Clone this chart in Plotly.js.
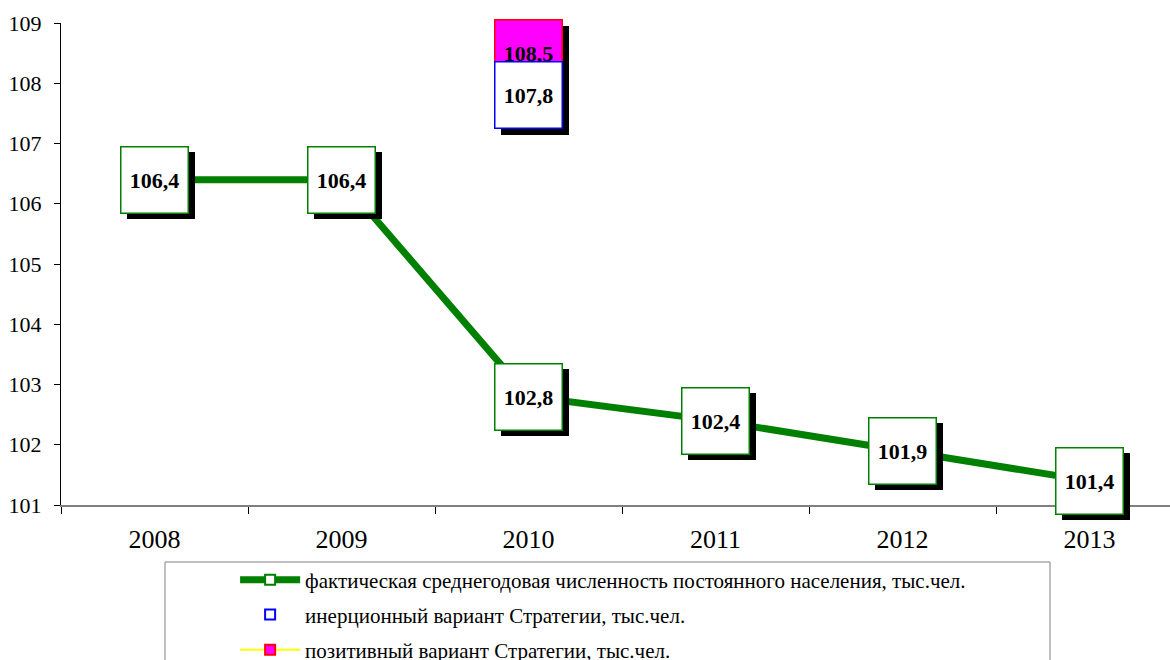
<!DOCTYPE html>
<html>
<head>
<meta charset="utf-8">
<script src="https://cdn.plot.ly/plotly-3.0.1.min.js"></script>
<style>html,body{margin:0;padding:0;background:#fff;}#chart{width:1170px;height:660px;}</style>
</head>
<body>
<div id="chart"></div>
<script>
var years = ['2008', '2009', '2010', '2011', '2012', '2013'];
var actualValues = [106.4, 106.4, 102.8, 102.4, 101.9, 101.4];
var inertialYears = ['2010'];
var inertialValues = [107.8];
var positiveYears = ['2010'];
var positiveValues = [108.5];
var seriesNames = [
  'фактическая среднегодовая численность постоянного населения, тыс.чел.',
  'инерционный вариант Стратегии, тыс.чел.',
  'позитивный вариант Стратегии, тыс.чел.'
];
var yTickValues = [101, 102, 103, 104, 105, 106, 107, 108, 109];

var FONT = 'Liberation Serif';
function fmt(v) { return v.toFixed(1).replace('.', ','); }

var traces = [
  {
    x: years, y: actualValues, type: 'scatter', mode: 'lines+markers',
    name: seriesNames[0], legend: 'legend',
    line: {color: '#008000', width: 7},
    marker: {symbol: 'square', size: 10, color: '#ffffff', line: {color: '#008000', width: 2}}
  },
  {
    x: inertialYears, y: inertialValues, type: 'scatter', mode: 'markers',
    name: seriesNames[1], legend: 'legend2',
    marker: {symbol: 'square', size: 10, color: '#ffffff', line: {color: '#0000ff', width: 2}}
  },
  {
    x: positiveYears, y: positiveValues, type: 'scatter', mode: 'lines+markers',
    name: seriesNames[2], legend: 'legend3',
    line: {color: '#ffff00', width: 2},
    marker: {symbol: 'square', size: 10, color: '#ff00ff', line: {color: '#ff0000', width: 2}}
  }
];

var annotations = [];
function addBox(yr, y, bg, border) {
  var xi = years.indexOf(yr);
  annotations.push({
    x: xi, y: y, xref: 'x', yref: 'y', showarrow: false, text: '&nbsp;',
    xshift: 6, yshift: -6, width: 66, height: 65, borderpad: 0, borderwidth: 1,
    bgcolor: '#000000', bordercolor: '#000000',
    font: {family: FONT, size: 22, color: '#000000'}
  });
  annotations.push({
    x: xi, y: y, xref: 'x', yref: 'y', showarrow: false, text: '<b>' + fmt(y) + '</b>',
    width: 66, height: 65, borderpad: 0, borderwidth: 1.5,
    bgcolor: bg, bordercolor: border,
    font: {family: FONT, size: 22, color: '#000000'}
  });
}
years.forEach(function (yr, i) { addBox(yr, actualValues[i], '#ffffff', '#008000'); });
positiveYears.forEach(function (yr, i) { addBox(yr, positiveValues[i], '#ff00ff', '#ff0000'); });
inertialYears.forEach(function (yr, i) { addBox(yr, inertialValues[i], '#ffffff', '#0000ff'); });

var legendFont = {family: FONT, size: 21, color: '#000000'};
var legendX = 0.157;
var layout = {
  width: 1170, height: 660,
  margin: {l: 61, r: 0, t: 23, b: 155, autoexpand: false},
  paper_bgcolor: '#ffffff', plot_bgcolor: '#ffffff',
  font: {family: FONT, color: '#000000'},
  xaxis: {
    type: 'category', range: [-0.5, 5.43], autorange: false,
    showline: true, linecolor: '#808080', linewidth: 1.5,
    ticks: 'outside', tickson: 'boundaries', ticklen: 7, tickcolor: '#000000',
    showgrid: false, zeroline: false, ticklabelstandoff: 10,
    tickfont: {family: FONT, size: 26, color: '#000000'}
  },
  yaxis: {
    range: [101, 109], autorange: false, tickvals: yTickValues,
    showline: true, linecolor: '#000000', linewidth: 1,
    ticks: 'outside', ticklen: 6, tickcolor: '#000000',
    showgrid: false, zeroline: false, ticklabelstandoff: 8,
    tickfont: {family: FONT, size: 22, color: '#000000'}
  },
  showlegend: true,
  legend: {x: legendX, y: -0.1556, xanchor: 'left', yanchor: 'middle', font: legendFont, bgcolor: 'rgba(0,0,0,0)', itemwidth: 60},
  legend2: {x: legendX, y: -0.228, xanchor: 'left', yanchor: 'middle', font: legendFont, bgcolor: 'rgba(0,0,0,0)', itemwidth: 60},
  legend3: {x: legendX, y: -0.3008, xanchor: 'left', yanchor: 'middle', font: legendFont, bgcolor: 'rgba(0,0,0,0)', itemwidth: 60},
  shapes: [{
    type: 'rect', xref: 'paper', yref: 'paper',
    x0: (165 - 61) / 1109, x1: (1050 - 61) / 1109,
    y0: -0.45, y1: (505 - 562) / 482,
    line: {color: '#808080', width: 1}, fillcolor: 'rgba(0,0,0,0)'
  }],
  annotations: annotations
};

Plotly.newPlot('chart', traces, layout, {displayModeBar: false, staticPlot: true});
</script>
</body>
</html>
